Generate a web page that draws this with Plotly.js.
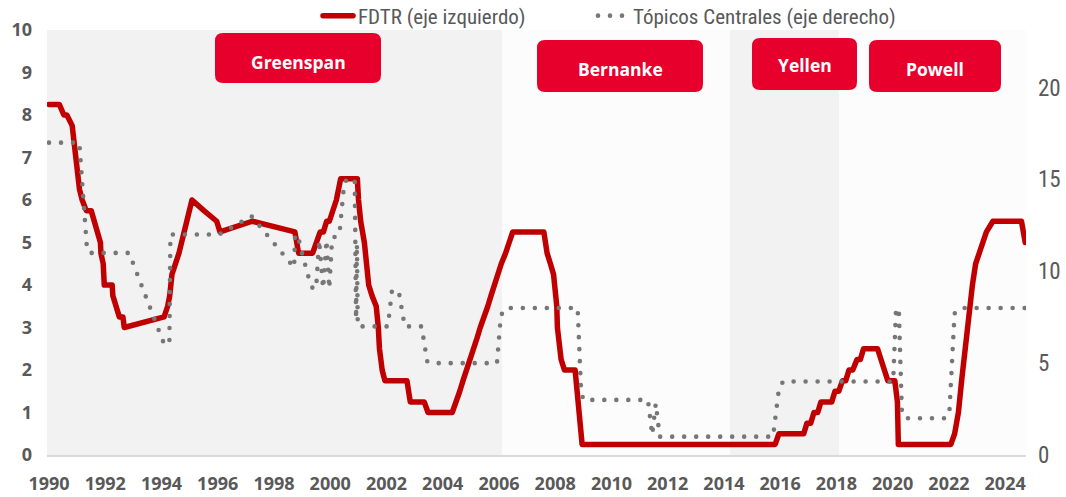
<!DOCTYPE html>
<html>
<head>
<meta charset="utf-8">
<script src="https://cdn.plot.ly/plotly-3.0.1.min.js"></script>
<style>
  html, body { margin: 0; padding: 0; background: #ffffff; }
  #chart { width: 1066px; height: 497px; }
  .js-line { stroke-linecap: round; stroke-linejoin: round; }
</style>
</head>
<body>
<div id="chart"></div>
<script>
// ---------------- DATA ----------------
// Fed funds target rate (upper bound) at the observation dates of the chart
const fdtrDates = [
  '1990-01-01','1990-05-15','1990-07-13','1990-08-21','1990-10-29','1990-11-13',
  '1990-12-07','1990-12-18','1991-01-09','1991-02-01','1991-03-08','1991-04-30',
  '1991-07-03','1991-08-06','1991-09-13','1991-10-31','1991-11-06','1991-12-06',
  '1991-12-20','1992-03-31','1992-04-09','1992-07-02','1992-08-18','1992-09-04',
  '1994-02-04','1994-03-22','1994-04-18','1994-05-17','1994-08-16','1994-11-15',
  '1995-02-01','1995-07-06','1995-12-19','1996-01-31','1997-03-25','1998-09-29',
  '1998-10-15','1998-11-17','1999-05-18','1999-06-30','1999-08-24','1999-10-05',
  '1999-11-16','1999-12-21','2000-02-02','2000-03-21','2000-05-16','2000-12-19',
  '2001-01-03','2001-01-31','2001-03-20','2001-04-18','2001-05-15','2001-06-27',
  '2001-08-21','2001-09-17','2001-10-02','2001-11-06','2001-12-11','2002-09-24',
  '2002-11-06','2003-05-06','2003-06-25','2004-05-04','2004-06-30','2004-08-10',
  '2004-09-21','2004-11-10','2004-12-14','2005-02-02','2005-03-22','2005-05-03',
  '2005-06-30','2005-08-09','2005-09-20','2005-11-01','2005-12-13','2006-01-31',
  '2006-03-28','2006-05-10','2006-06-29','2007-08-07','2007-09-18','2007-10-31',
  '2007-12-11','2008-01-22','2008-01-30','2008-03-18','2008-04-30','2008-09-16',
  '2008-10-08','2008-10-29','2008-12-16','2015-10-28','2015-12-16','2016-11-02',
  '2016-12-14','2017-02-01','2017-03-15','2017-05-03','2017-06-14','2017-11-01',
  '2017-12-13','2018-01-31','2018-03-21','2018-05-02','2018-06-13','2018-08-01',
  '2018-09-26','2018-11-08','2018-12-19','2019-06-19','2019-07-31','2019-09-18',
  '2019-10-30','2020-01-29','2020-03-03','2020-03-15','2022-01-26','2022-03-16',
  '2022-05-04','2022-06-15','2022-07-27','2022-09-21','2022-11-02','2022-12-14',
  '2023-02-01','2023-03-22','2023-05-03','2023-07-26','2024-07-31','2024-09-18'
];
const fdtrValues = [
  8.25,8.25,8.00,8.00,7.75,7.50,
  7.25,7.00,6.75,6.25,6.00,5.75,
  5.75,5.50,5.25,5.00,4.75,4.50,
  4.00,4.00,3.75,3.25,3.25,3.00,
  3.25,3.50,3.75,4.25,4.75,5.50,
  6.00,5.75,5.50,5.25,5.50,5.25,
  5.00,4.75,4.75,5.00,5.25,5.25,
  5.50,5.50,5.75,6.00,6.50,6.50,
  6.00,5.50,5.00,4.50,4.00,3.75,
  3.50,3.00,2.50,2.00,1.75,1.75,
  1.25,1.25,1.00,1.00,1.25,1.50,
  1.75,2.00,2.25,2.50,2.75,3.00,
  3.25,3.50,3.75,4.00,4.25,4.50,
  4.75,5.00,5.25,5.25,4.75,4.50,
  4.25,3.50,3.00,2.25,2.00,2.00,
  1.50,1.00,0.25,0.25,0.50,0.50,
  0.75,0.75,1.00,1.00,1.25,1.25,
  1.50,1.50,1.75,1.75,2.00,2.00,
  2.25,2.25,2.50,2.50,2.25,2.00,
  1.75,1.75,1.25,0.25,0.25,0.50,
  1.00,1.75,2.50,3.25,4.00,4.50,
  4.75,5.00,5.25,5.50,5.50,5.00
];

// "Tópicos Centrales" (right axis)
const topicDates = [
  '1990-01-01','1991-01-30','1991-05-08','1991-06-03','1992-11-06','1994-01-19',
  '1994-04-13','1994-04-27','1996-01-19','1997-03-14','1998-09-20','1998-10-01',
  '1998-11-06','1998-12-12','1999-04-12','1999-05-20','1999-07-02','1999-08-11',
  '1999-10-01','1999-11-14','1999-12-20','2000-01-26','2000-04-30','2000-07-01',
  '2000-08-08','2000-11-15','2000-12-02','2000-12-13','2000-12-24','2002-01-19',
  '2002-03-15','2002-06-14','2002-08-26','2003-04-02','2003-06-14','2003-07-20',
  '2005-12-06','2006-01-26','2006-04-02','2008-10-19','2008-12-02','2009-01-01',
  '2011-04-20','2011-06-14','2011-07-31','2011-09-20','2015-10-01','2015-12-13',
  '2016-02-06','2020-01-08','2020-02-14','2020-03-22','2020-05-01','2020-07-02',
  '2021-11-24','2022-01-08','2022-03-15','2022-05-27','2024-09-20'
];
const topicValues = [
  17.0,17.0,11.3,11.0,11.0,6.2,
  6.0,12.0,12.0,13.0,10.2,11.9,
  12.0,11.3,9.4,9.06,9.06,11.7,
  9.06,11.7,9.06,11.8,12.0,14.8,
  15.0,15.0,7.4,11.5,7.0,7.0,
  9.0,8.8,7.0,7.0,5.1,5.0,
  5.0,7.6,8.0,8.0,3.5,3.0,
  3.0,1.1,2.8,1.0,1.0,3.5,
  4.0,4.0,8.0,7.8,2.2,2.0,
  2.0,2.4,7.7,8.0,8.0
];

// Chair terms (background bands) and labels
const chairNames = ['Greenspan','Bernanke','Yellen','Powell'];
const chairStarts = ['1989-12-06','2006-02-10','2014-03-20','2018-02-03'];
const chairEnds   = ['2006-02-10','2014-03-20','2018-02-03','2024-09-28'];

const leftTicks = [0,1,2,3,4,5,6,7,8,9,10];
const rightTicks = [0,5,10,15,20];
const yearTicks = ['1990','1992','1994','1996','1998','2000','2002','2004','2006','2008',
                   '2010','2012','2014','2016','2018','2020','2022','2024'];

// ---------------- LAYOUT HELPERS ----------------
const W = 1066, H = 497;
const M = {l: 47, r: 40, t: 30, b: 42, autoexpand: false};
const PW = W - M.l - M.r, PH = H - M.t - M.b;
const px = v => (v - M.l) / PW;
const py = v => (H - M.b - v) / PH;

function roundedBox(x0, y0, x1, y1, r) {
  const X0 = px(x0), X1 = px(x1), Yt = py(y0), Yb = py(y1);
  const rx = r / PW, ry = r / PH;
  return `M ${X0+rx},${Yt} L ${X1-rx},${Yt} Q ${X1},${Yt} ${X1},${Yt-ry} ` +
         `L ${X1},${Yb+ry} Q ${X1},${Yb} ${X1-rx},${Yb} L ${X0+rx},${Yb} ` +
         `Q ${X0},${Yb} ${X0},${Yb+ry} L ${X0},${Yt-ry} Q ${X0},${Yt} ${X0+rx},${Yt} Z`;
}

const bandColors = ['#f2f2f2','#fcfcfc','#f2f2f2','#fcfcfc'];
// label boxes in pixels: [x0,y0,x1,y1, textY]
const boxes = [
  [215, 33, 381, 83, 62],
  [537, 40, 703, 92, 69],
  [752, 38, 857, 90, 65],
  [869, 40, 1001, 92, 69]
];

const shapes = [];
chairNames.forEach((n, i) => {
  shapes.push({type: 'rect', xref: 'x', yref: 'paper', x0: chairStarts[i], x1: chairEnds[i],
    y0: 0, y1: 1, fillcolor: bandColors[i], line: {width: 0}, layer: 'below'});
});
const annotations = [];
chairNames.forEach((n, i) => {
  const b = boxes[i];
  shapes.push({type: 'path', xref: 'paper', yref: 'paper', path: roundedBox(b[0], b[1], b[2], b[3], 8),
    fillcolor: '#e8002d', line: {width: 0}, layer: 'above'});
  annotations.push({xref: 'paper', yref: 'paper', x: px((b[0] + b[2]) / 2), y: py(b[4]),
    text: n, showarrow: false, xanchor: 'center', yanchor: 'middle',
    font: {family: 'Open Sans', size: 17.5, color: '#ffffff', weight: 'bold'}});
});

const narrow = 'Liberation Sans Narrow, Roboto Condensed, Roboto, sans-serif';

const traces = [
  {
    x: fdtrDates, y: fdtrValues, name: 'FDTR (eje izquierdo)', type: 'scatter', mode: 'lines',
    line: {color: '#c00000', width: 5.5}, yaxis: 'y', hoverinfo: 'x+y', legendwidth: 230
  },
  {
    x: topicDates, y: topicValues, name: 'Tópicos Centrales (eje derecho)', type: 'scatter', mode: 'lines',
    line: {color: '#777777', width: 4.6, dash: '0px,12px'}, yaxis: 'y2', hoverinfo: 'x+y', legendwidth: 300
  }
];

const layout = {
  width: W, height: H,
  margin: M,
  paper_bgcolor: '#ffffff',
  plot_bgcolor: '#ffffff',
  showlegend: true,
  legend: {
    orientation: 'h', x: px(318), xanchor: 'left', y: py(16), yanchor: 'middle',
    font: {family: narrow, size: 21, color: '#595959'},
    bgcolor: 'rgba(0,0,0,0)', traceorder: 'normal'
  },
  xaxis: {
    type: 'date',
    range: ['1989-12-06', '2024-09-28'],
    tickvals: yearTicks.map(y => y + '-01-01'),
    ticktext: yearTicks,
    showgrid: false, zeroline: false,
    showline: true, linecolor: '#d9d9d9', linewidth: 2,
    ticks: '', ticklabelstandoff: 11,
    tickfont: {family: 'Open Sans', size: 18, color: '#595959', weight: 'bold'}
  },
  yaxis: {
    range: [0, 10], tickvals: leftTicks, ticktext: leftTicks.map(String),
    showgrid: false, zeroline: false, showline: false, ticks: '',
    ticklabelstandoff: 14,
    tickfont: {family: 'Open Sans', size: 18, color: '#595959', weight: 'bold'}
  },
  yaxis2: {
    range: [0, 23.13], overlaying: 'y', side: 'right',
    tickvals: rightTicks, ticktext: rightTicks.map(String),
    showgrid: false, zeroline: false, showline: false, ticks: '',
    ticklabelstandoff: 11,
    tickfont: {family: narrow, size: 23, color: '#595959'}
  },
  shapes: shapes,
  annotations: annotations
};

Plotly.newPlot('chart', traces, layout, {displayModeBar: false, staticPlot: true});
</script>
</body>
</html>
